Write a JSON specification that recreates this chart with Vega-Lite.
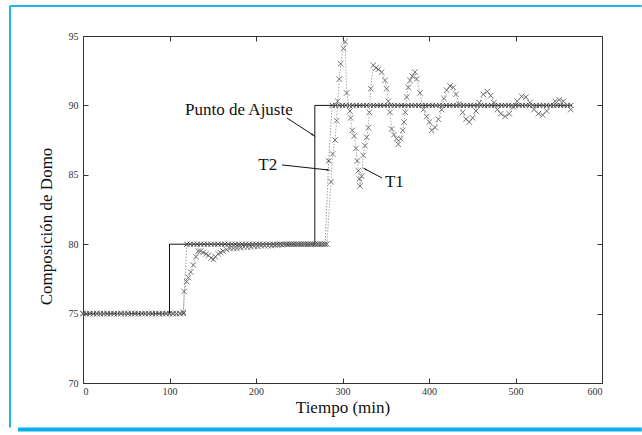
{
  "$schema": "https://vega.github.io/schema/vega-lite/v6.json",
  "width": 519,
  "height": 347,
  "autosize": {"type": "none"},
  "padding": {"left": 83, "top": 36, "right": 40, "bottom": 52},
  "background": "white",
  "config": {
    "view": {"stroke": null},
    "axis": {
      "grid": false,
      "domainColor": "#333",
      "tickColor": "#333",
      "tickSize": -5,
      "labelFont": "Liberation Serif",
      "labelFontSize": 10,
      "labelColor": "#333",
      "titleFont": "Liberation Serif",
      "titleFontSize": 17,
      "titleFontWeight": "normal",
      "titleColor": "#111"
    }
  },
  "datasets": {
    "frame": [{}],
    "setpoint": [
      {"t": 0, "v": 75}, {"t": 100, "v": 75}, {"t": 100, "v": 80}, {"t": 268, "v": 80}, {"t": 268, "v": 90}, {"t": 565, "v": 90}
    ],
    "t2": [
      {"t":0,"v":75},{"t":4,"v":75},{"t":8,"v":75},{"t":12,"v":75},{"t":16,"v":75},{"t":20,"v":75},{"t":24,"v":75},{"t":28,"v":75},{"t":32,"v":75},{"t":36,"v":75},{"t":40,"v":75},{"t":44,"v":75},{"t":48,"v":75},{"t":52,"v":75},{"t":56,"v":75},{"t":60,"v":75},{"t":64,"v":75},{"t":68,"v":75},{"t":72,"v":75},{"t":76,"v":75},{"t":80,"v":75},{"t":84,"v":75},{"t":88,"v":75},{"t":92,"v":75},{"t":96,"v":75},{"t":100,"v":75},{"t":104,"v":75},{"t":108,"v":75},{"t":112,"v":75},{"t":116,"v":75},
      {"t":120,"v":80},{"t":124,"v":80},{"t":128,"v":80},{"t":132,"v":80},{"t":136,"v":80},{"t":140,"v":80},{"t":144,"v":80},{"t":148,"v":80},{"t":152,"v":80},{"t":156,"v":80},{"t":160,"v":80},{"t":164,"v":80},{"t":168,"v":80},{"t":172,"v":80},{"t":176,"v":80},{"t":180,"v":80},{"t":184,"v":80},{"t":188,"v":80},{"t":192,"v":80},{"t":196,"v":80},{"t":200,"v":80},{"t":204,"v":80},{"t":208,"v":80},{"t":212,"v":80},{"t":216,"v":80},{"t":220,"v":80},{"t":224,"v":80},{"t":228,"v":80},{"t":232,"v":80},{"t":236,"v":80},{"t":240,"v":80},{"t":244,"v":80},{"t":248,"v":80},{"t":252,"v":80},{"t":256,"v":80},{"t":260,"v":80},{"t":264,"v":80},{"t":268,"v":80},{"t":272,"v":80},{"t":276,"v":80},{"t":280,"v":80},
      {"t":284,"v":86},
      {"t":288,"v":90},{"t":292,"v":90},{"t":296,"v":90},{"t":300,"v":90},{"t":304,"v":90},{"t":308,"v":90},{"t":312,"v":90},{"t":316,"v":90},{"t":320,"v":90},{"t":324,"v":90},{"t":328,"v":90},{"t":332,"v":90},{"t":336,"v":90},{"t":340,"v":90},{"t":344,"v":90},{"t":348,"v":90},{"t":352,"v":90},{"t":356,"v":90},{"t":360,"v":90},{"t":364,"v":90},{"t":368,"v":90},{"t":372,"v":90},{"t":376,"v":90},{"t":380,"v":90},{"t":384,"v":90},{"t":388,"v":90},{"t":392,"v":90},{"t":396,"v":90},{"t":400,"v":90},{"t":404,"v":90},{"t":408,"v":90},{"t":412,"v":90},{"t":416,"v":90},{"t":420,"v":90},{"t":424,"v":90},{"t":428,"v":90},{"t":432,"v":90},{"t":436,"v":90},{"t":440,"v":90},{"t":444,"v":90},{"t":448,"v":90},{"t":452,"v":90},{"t":456,"v":90},{"t":460,"v":90},{"t":464,"v":90},{"t":468,"v":90},{"t":472,"v":90},{"t":476,"v":90},{"t":480,"v":90},{"t":484,"v":90},{"t":488,"v":90},{"t":492,"v":90},{"t":496,"v":90},{"t":500,"v":90},{"t":504,"v":90},{"t":508,"v":90},{"t":512,"v":90},{"t":516,"v":90},{"t":520,"v":90},{"t":524,"v":90},{"t":528,"v":90},{"t":532,"v":90},{"t":536,"v":90},{"t":540,"v":90},{"t":544,"v":90},{"t":548,"v":90},{"t":552,"v":90},{"t":556,"v":90},{"t":560,"v":90},{"t":564,"v":90}
    ],
    "t1": [
      {"t":0,"v":75},{"t":4,"v":75},{"t":8,"v":75},{"t":12,"v":75},{"t":16,"v":75},{"t":20,"v":75},{"t":24,"v":75},{"t":28,"v":75},{"t":32,"v":75},{"t":36,"v":75},{"t":40,"v":75},{"t":44,"v":75},{"t":48,"v":75},{"t":52,"v":75},{"t":56,"v":75},{"t":60,"v":75},{"t":64,"v":75},{"t":68,"v":75},{"t":72,"v":75},{"t":76,"v":75},{"t":80,"v":75},{"t":84,"v":75},{"t":88,"v":75},{"t":92,"v":75},{"t":96,"v":75},{"t":100,"v":75},{"t":104,"v":75},{"t":108,"v":75},{"t":112,"v":75},
      {"t":116,"v":75.1},{"t":117,"v":76.6},{"t":119.8,"v":77.3},{"t":121.8,"v":77.6},{"t":124.5,"v":78.0},{"t":127.5,"v":78.5},{"t":130.6,"v":79.1},{"t":133.3,"v":79.5},{"t":136,"v":79.5},{"t":139,"v":79.4},{"t":142,"v":79.3},{"t":145,"v":79.2},{"t":148,"v":79.0},{"t":150.6,"v":78.9},{"t":153,"v":79.1},{"t":156.4,"v":79.3},{"t":159,"v":79.4},{"t":162,"v":79.5},{"t":166,"v":79.6},{"t":170,"v":79.7},{"t":174,"v":79.7},{"t":178,"v":79.7},{"t":182,"v":79.75},{"t":186,"v":79.8},{"t":190,"v":79.8},{"t":194,"v":79.8},{"t":198,"v":79.85},{"t":202,"v":79.85},{"t":206,"v":79.9},{"t":210,"v":79.9},{"t":214,"v":79.9},{"t":218,"v":79.9},{"t":222,"v":79.95},{"t":226,"v":79.95},{"t":230,"v":79.95},{"t":234,"v":80},{"t":238,"v":80},{"t":242,"v":80},{"t":246,"v":80},{"t":250,"v":80},{"t":254,"v":80},{"t":258,"v":80},{"t":262,"v":80},{"t":266,"v":80},{"t":270,"v":80},{"t":274,"v":80},{"t":278,"v":80},{"t":282,"v":80},
      {"t":286.7,"v":84.5},{"t":288.6,"v":86.5},{"t":291.3,"v":87.5},{"t":293.2,"v":88.9},{"t":294.4,"v":90.3},{"t":296.3,"v":91.9},{"t":297.9,"v":93.0},{"t":301,"v":94.1},{"t":303,"v":94.6},
      {"t":304.8,"v":90.9},{"t":308.7,"v":89.6},{"t":309.4,"v":89.1},{"t":311.3,"v":88.2},{"t":313.6,"v":87.8},{"t":315.6,"v":86.9},{"t":317.1,"v":86.0},{"t":318.3,"v":85.3},{"t":319.4,"v":84.7},{"t":320.2,"v":84.2},
      {"t":322.2,"v":84.9},{"t":324,"v":86.4},{"t":326,"v":87.1},{"t":328,"v":87.7},{"t":329.9,"v":88.4},{"t":331,"v":89.5},{"t":332.6,"v":91.2},{"t":335.6,"v":92.9},{"t":338.7,"v":92.7},{"t":341.4,"v":92.6},{"t":345.3,"v":92.4},{"t":349.1,"v":91.8},{"t":351,"v":91.2},{"t":353,"v":90.3},{"t":354.9,"v":89.5},{"t":356.8,"v":88.3},{"t":359.5,"v":87.9},{"t":362.5,"v":87.6},{"t":364.5,"v":87.2},{"t":367.3,"v":87.6},{"t":369.6,"v":88.2},{"t":371.1,"v":88.8},{"t":372.6,"v":89.5},{"t":374.2,"v":90.6},{"t":376.1,"v":91.3},{"t":378,"v":91.8},{"t":380.7,"v":92.1},{"t":383.8,"v":92.4},{"t":385.7,"v":91.9},{"t":389.6,"v":90.9},{"t":393.4,"v":89.7},{"t":397.3,"v":89.2},{"t":400.4,"v":88.8},{"t":403,"v":88.2},{"t":407,"v":88.4},{"t":410.8,"v":89.0},{"t":414.7,"v":89.7},{"t":417.3,"v":90.5},{"t":420.4,"v":91.1},{"t":424.3,"v":91.4},{"t":428.1,"v":91.3},{"t":431.2,"v":90.8},{"t":435,"v":90.1},{"t":438.9,"v":89.5},{"t":442.8,"v":89.0},{"t":446.6,"v":88.8},{"t":450.5,"v":89.1},{"t":454.3,"v":89.6},{"t":458.2,"v":90.2},{"t":462.8,"v":90.8},{"t":467.4,"v":91.0},{"t":471.3,"v":90.7},{"t":475.1,"v":90.2},{"t":479,"v":89.7},{"t":482.9,"v":89.4},{"t":487.9,"v":89.2},{"t":492.8,"v":89.4},{"t":497.5,"v":89.9},{"t":502,"v":90.3},{"t":507.1,"v":90.65},{"t":512.1,"v":90.6},{"t":516.8,"v":90.2},{"t":521.4,"v":89.7},{"t":526.4,"v":89.4},{"t":531.4,"v":89.3},{"t":536,"v":89.6},{"t":540.6,"v":90.0},{"t":545.7,"v":90.3},{"t":550.6,"v":90.4},{"t":555.3,"v":90.3},{"t":560,"v":90.0},{"t":563.8,"v":89.7}
    ],
    "labels": [
      {"t": 118, "v": 89.3, "label": "Punto de Ajuste"},
      {"t": 202.7, "v": 85.35, "label": "T2"},
      {"t": 349, "v": 84.12, "label": "T1"}
    ],
    "arrows": [
      {"name": "Punto de Ajuste", "t": 235.8, "v": 89.09, "t2": 265.9, "v2": 87.87},
      {"name": "T2", "t": 230.1, "v": 85.71, "t2": 283.2, "v2": 85.35},
      {"name": "T1", "t": 345.7, "v": 84.77, "t2": 326, "v2": 85.42}
    ]
  },
  "resolve": {"axis": {"x": "independent", "y": "independent"}},
  "layer": [
    {
      "data": {"name": "frame"},
      "mark": {"type": "rule", "color": "#22b2ea", "strokeWidth": 2},
      "encoding": {
        "x": {"datum": -84.4, "type": "quantitative", "scale": {"domain": [0, 600], "nice": false, "zero": false}, "axis": null},
        "y": {"datum": 97.16, "type": "quantitative", "scale": {"domain": [70, 95], "nice": false, "zero": false}, "axis": null},
        "y2": {"datum": 66.8}
      }
    },
    {
      "data": {"name": "frame"},
      "mark": {"type": "rule", "color": "#22b2ea", "strokeWidth": 2},
      "encoding": {
        "x": {"datum": -84.4, "type": "quantitative", "scale": {"domain": [0, 600], "nice": false, "zero": false}, "axis": null},
        "x2": {"datum": 646},
        "y": {"datum": 97.16, "type": "quantitative", "scale": {"domain": [70, 95], "nice": false, "zero": false}, "axis": null}
      }
    },
    {
      "data": {"name": "frame"},
      "mark": {"type": "rule", "color": "#0aaeea", "strokeWidth": 4},
      "encoding": {
        "x": {"datum": -75.1, "type": "quantitative", "scale": {"domain": [0, 600], "nice": false, "zero": false}, "axis": null},
        "x2": {"datum": 646},
        "y": {"datum": 66.65, "type": "quantitative", "scale": {"domain": [70, 95], "nice": false, "zero": false}, "axis": null}
      }
    },
    {
      "data": {"name": "setpoint"},
      "mark": {"type": "line", "color": "#111", "strokeWidth": 1},
      "encoding": {
        "x": {"field": "t", "type": "quantitative", "scale": {"domain": [0, 600], "nice": false, "zero": false},
              "axis": {"orient": "bottom", "values": [0, 100, 200, 300, 400, 500, 600], "title": "Tiempo (min)", "titlePadding": 3, "labelPadding": 8}},
        "y": {"field": "v", "type": "quantitative", "scale": {"domain": [70, 95], "nice": false, "zero": false},
              "axis": {"orient": "left", "values": [70, 75, 80, 85, 90, 95], "title": "Composición de Domo", "labelPadding": 10, "titleX": -28, "titleY": 190}}
      }
    },
    {
      "data": {"name": "t2"},
      "mark": {"type": "line", "color": "#9c9c9c", "strokeWidth": 1, "strokeDash": [1.5, 1.5]},
      "encoding": {
        "x": {"field": "t", "type": "quantitative", "scale": {"domain": [0, 600], "nice": false, "zero": false},
              "axis": {"orient": "top", "values": [0, 100, 200, 300, 400, 500, 600], "labels": false, "title": null}},
        "y": {"field": "v", "type": "quantitative", "scale": {"domain": [70, 95], "nice": false, "zero": false},
              "axis": {"orient": "right", "values": [70, 75, 80, 85, 90, 95], "labels": false, "title": null}}
      }
    },
    {
      "data": {"name": "t2"},
      "mark": {"type": "point", "shape": "M-1,-1L1,1M1,-1L-1,1", "filled": false, "color": "#3a3a3a", "strokeWidth": 0.9, "size": 25, "opacity": 1},
      "encoding": {
        "x": {"field": "t", "type": "quantitative", "scale": {"domain": [0, 600], "nice": false, "zero": false}, "axis": null},
        "y": {"field": "v", "type": "quantitative", "scale": {"domain": [70, 95], "nice": false, "zero": false}, "axis": null}
      }
    },
    {
      "data": {"name": "t1"},
      "mark": {"type": "line", "color": "#a8a8a8", "strokeWidth": 1, "strokeDash": [1.5, 1.5]},
      "encoding": {
        "x": {"field": "t", "type": "quantitative", "scale": {"domain": [0, 600], "nice": false, "zero": false}, "axis": null},
        "y": {"field": "v", "type": "quantitative", "scale": {"domain": [70, 95], "nice": false, "zero": false}, "axis": null}
      }
    },
    {
      "data": {"name": "t1"},
      "mark": {"type": "point", "shape": "M-1,-1L1,1M1,-1L-1,1", "filled": false, "color": "#666", "strokeWidth": 0.9, "size": 30, "opacity": 1},
      "encoding": {
        "x": {"field": "t", "type": "quantitative", "scale": {"domain": [0, 600], "nice": false, "zero": false}, "axis": null},
        "y": {"field": "v", "type": "quantitative", "scale": {"domain": [70, 95], "nice": false, "zero": false}, "axis": null}
      }
    },
    {
      "data": {"name": "arrows"},
      "mark": {"type": "rule", "color": "#111", "strokeWidth": 1},
      "encoding": {
        "x": {"field": "t", "type": "quantitative", "scale": {"domain": [0, 600], "nice": false, "zero": false}, "axis": null},
        "y": {"field": "v", "type": "quantitative", "scale": {"domain": [70, 95], "nice": false, "zero": false}, "axis": null},
        "x2": {"field": "t2"},
        "y2": {"field": "v2"}
      }
    },
    {
      "data": {"name": "arrows"},
      "transform": [{"filter": "datum.name == 'Punto de Ajuste'"}],
      "mark": {"type": "point", "shape": "wedge", "filled": true, "color": "#111", "size": 40, "angle": 123, "opacity": 1},
      "encoding": {
        "x": {"field": "t2", "type": "quantitative", "scale": {"domain": [0, 600], "nice": false, "zero": false}, "axis": null},
        "y": {"field": "v2", "type": "quantitative", "scale": {"domain": [70, 95], "nice": false, "zero": false}, "axis": null}
      }
    },
    {
      "data": {"name": "arrows"},
      "transform": [{"filter": "datum.name == 'T2'"}],
      "mark": {"type": "point", "shape": "wedge", "filled": true, "color": "#111", "size": 40, "angle": 96, "opacity": 1},
      "encoding": {
        "x": {"field": "t2", "type": "quantitative", "scale": {"domain": [0, 600], "nice": false, "zero": false}, "axis": null},
        "y": {"field": "v2", "type": "quantitative", "scale": {"domain": [70, 95], "nice": false, "zero": false}, "axis": null}
      }
    },
    {
      "data": {"name": "arrows"},
      "transform": [{"filter": "datum.name == 'T1'"}],
      "mark": {"type": "point", "shape": "wedge", "filled": true, "color": "#111", "size": 40, "angle": 298, "opacity": 1},
      "encoding": {
        "x": {"field": "t2", "type": "quantitative", "scale": {"domain": [0, 600], "nice": false, "zero": false}, "axis": null},
        "y": {"field": "v2", "type": "quantitative", "scale": {"domain": [70, 95], "nice": false, "zero": false}, "axis": null}
      }
    },
    {
      "data": {"name": "labels"},
      "mark": {"type": "text", "font": "Liberation Serif", "fontSize": 17, "color": "#111", "align": "left", "baseline": "alphabetic"},
      "encoding": {
        "x": {"field": "t", "type": "quantitative", "scale": {"domain": [0, 600], "nice": false, "zero": false}, "axis": null},
        "y": {"field": "v", "type": "quantitative", "scale": {"domain": [70, 95], "nice": false, "zero": false}, "axis": null},
        "text": {"field": "label"}
      }
    }
  ]
}
